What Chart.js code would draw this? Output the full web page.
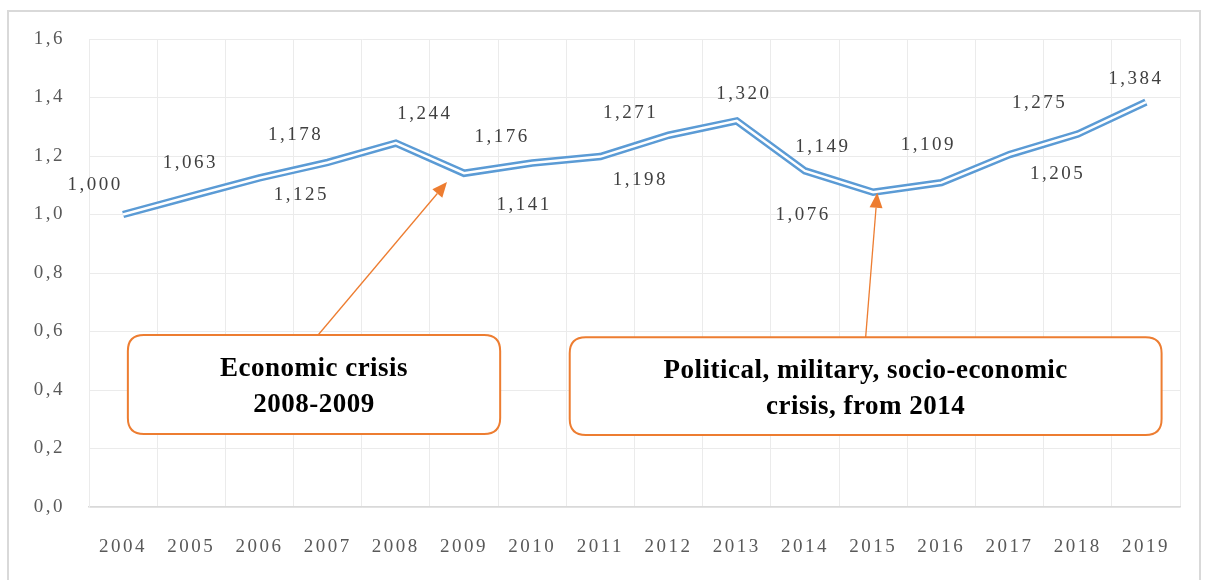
<!DOCTYPE html>
<html>
<head>
<meta charset="utf-8">
<script src="https://cdn.jsdelivr.net/npm/chart.js@4.4.1/dist/chart.umd.min.js"></script>
<style>
body { margin: 0; background: #fff; }
#wrap { position: relative; width: 1207px; height: 580px; overflow: hidden; }
#frame {
    position: absolute;
    left: 7px; top: 10px;
    width: 1190px; height: 600px;
    border: 2px solid #d9d9d9;
    pointer-events: none;
}
canvas { position: absolute; left: 0; top: 0; }
</style>
</head>
<body>
<div id="wrap">
<canvas id="growthChart" width="1207" height="580"></canvas>
<div id="frame"></div>
</div>
<script>
// data
var years = ["2004", "2005", "2006", "2007", "2008", "2009", "2010", "2011",
             "2012", "2013", "2014", "2015", "2016", "2017", "2018", "2019"];
var indexValues = [1.000, 1.063, 1.125, 1.178, 1.244, 1.141, 1.176, 1.198,
                   1.271, 1.320, 1.149, 1.076, 1.109, 1.205, 1.275, 1.384];
var yMin = 0, yMax = 1.6, yStep = 0.2;

// label placement, pixels from the point (moved by hand in the original)
var labelOffsets = [[-28, -29], [-1, -33], [42, 17], [-32, -27], [29, -29], [60, 32],
                    [-30, -26], [40, 23], [-38, -22], [7, -27], [18, -24], [-70, 23],
                    [-13, -38], [48, 19], [-38, -31], [-10, -23]];

// callouts, in scale units (category index, value)
var callouts = [
    { lines: ["Economic crisis", "2008-2009"], box: [0.07, 5.53, 0.588, 0.25],
      from: [2.86, 0.588], to: [4.75, 1.111] },
    { lines: ["Political, military, socio-economic", "crisis, from 2014"], box: [6.55, 15.23, 0.58, 0.246],
      from: [10.89, 0.58], to: [11.06, 1.074] }
];

var SERIF = "'Liberation Serif', 'Times New Roman', serif";
var BLUE = "#5b9bd5";
var ORANGE = "#ed7d31";

function fmt(v, d) {
    return v.toFixed(d).replace(".", ",");
}

var spacingPlugin = {
    id: "spacing",
    beforeLayout: function(chart) { chart.ctx.letterSpacing = "2.5px"; },
    beforeDraw: function(chart) { chart.ctx.letterSpacing = "2.5px"; }
};

var pointLabels = {
    id: "pointLabels",
    afterDatasetsDraw: function(chart) {
        var ctx = chart.ctx;
        var meta = chart.getDatasetMeta(0);
        ctx.save();
        ctx.letterSpacing = "2.5px";
        ctx.font = "19px " + SERIF;
        ctx.fillStyle = "#404040";
        ctx.textAlign = "center";
        ctx.textBaseline = "middle";
        meta.data.forEach(function(pt, i) {
            var off = labelOffsets[i];
            ctx.fillText(fmt(indexValues[i], 3), pt.x + off[0], pt.y + off[1]);
        });
        ctx.restore();
    }
};

function roundRect(ctx, x, y, w, h, r) {
    ctx.beginPath();
    ctx.moveTo(x + r, y);
    ctx.lineTo(x + w - r, y);
    ctx.quadraticCurveTo(x + w, y, x + w, y + r);
    ctx.lineTo(x + w, y + h - r);
    ctx.quadraticCurveTo(x + w, y + h, x + w - r, y + h);
    ctx.lineTo(x + r, y + h);
    ctx.quadraticCurveTo(x, y + h, x, y + h - r);
    ctx.lineTo(x, y + r);
    ctx.quadraticCurveTo(x, y, x + r, y);
    ctx.closePath();
}

var calloutPlugin = {
    id: "callouts",
    afterDraw: function(chart) {
        var ctx = chart.ctx;
        var xs = chart.scales.x, ys = chart.scales.y;
        ctx.save();
        callouts.forEach(function(c) {
            // arrow
            var x1 = xs.getPixelForValue(c.from[0]), y1 = ys.getPixelForValue(c.from[1]);
            var x2 = xs.getPixelForValue(c.to[0]), y2 = ys.getPixelForValue(c.to[1]);
            var ang = Math.atan2(y2 - y1, x2 - x1);
            var headLen = 15, headW = 6.5;
            var bx = x2 - headLen * Math.cos(ang), by = y2 - headLen * Math.sin(ang);
            ctx.strokeStyle = ORANGE;
            ctx.fillStyle = ORANGE;
            ctx.lineWidth = 1.3;
            ctx.beginPath();
            ctx.moveTo(x1, y1);
            ctx.lineTo(bx, by);
            ctx.stroke();
            ctx.beginPath();
            ctx.moveTo(x2, y2);
            ctx.lineTo(bx + headW * Math.sin(ang), by - headW * Math.cos(ang));
            ctx.lineTo(bx - headW * Math.sin(ang), by + headW * Math.cos(ang));
            ctx.closePath();
            ctx.fill();

            // box
            var left = xs.getPixelForValue(c.box[0]), right = xs.getPixelForValue(c.box[1]);
            var top = ys.getPixelForValue(c.box[2]), bottom = ys.getPixelForValue(c.box[3]);
            roundRect(ctx, left, top, right - left, bottom - top, 16);
            ctx.fillStyle = "#fff";
            ctx.fill();
            ctx.lineWidth = 2;
            ctx.strokeStyle = ORANGE;
            ctx.stroke();

            // text
            ctx.fillStyle = "#000";
            ctx.font = "bold 27px " + SERIF;
            ctx.letterSpacing = "0.5px";
            ctx.textAlign = "center";
            ctx.textBaseline = "middle";
            var cx = (left + right) / 2, cy = (top + bottom) / 2;
            ctx.fillText(c.lines[0], cx, cy - 15);
            ctx.fillText(c.lines[1], cx, cy + 21);
        });
        ctx.restore();
    }
};

var ctx = document.getElementById("growthChart").getContext("2d");
var growthChart = new Chart(ctx, {
    type: "line",
    data: {
        labels: years,
        datasets: [{
            data: indexValues,
            borderColor: "#ffffff",
            borderWidth: 2.5,
            pointRadius: 0,
            tension: 0,
            borderJoinStyle: "miter",
            borderCapStyle: "butt",
            order: 0
        }, {
            data: indexValues,
            borderColor: BLUE,
            borderWidth: 7.5,
            pointRadius: 0,
            tension: 0,
            borderJoinStyle: "miter",
            borderCapStyle: "butt",
            order: 1
        }]
    },
    options: {
        responsive: false,
        devicePixelRatio: 1,
        animation: false,
        events: [],
        layout: { padding: { top: 39, right: 27, left: 0, bottom: 0 } },
        plugins: {
            legend: { display: false },
            tooltip: { enabled: false }
        },
        scales: {
            x: {
                offset: true,
                grid: { offset: true, color: "#ebebeb", drawTicks: false },
                border: { color: "#d9d9d9", width: 1.5 },
                ticks: {
                    color: "#595959",
                    font: { family: SERIF, size: 19 },
                    padding: 29,
                    maxRotation: 0,
                    autoSkip: false
                },
                afterFit: function(scale) { scale.height = 73; }
            },
            y: {
                min: yMin,
                max: yMax,
                grid: { color: "#ebebeb", drawTicks: false },
                border: { color: "#ebebeb" },
                ticks: {
                    stepSize: yStep,
                    color: "#595959",
                    font: { family: SERIF, size: 19 },
                    padding: 24,
                    callback: function(v) { return fmt(v, 1); }
                },
                afterFit: function(scale) { scale.width = 89; }
            }
        }
    },
    plugins: [spacingPlugin, pointLabels, calloutPlugin]
});
</script>
</body>
</html>
